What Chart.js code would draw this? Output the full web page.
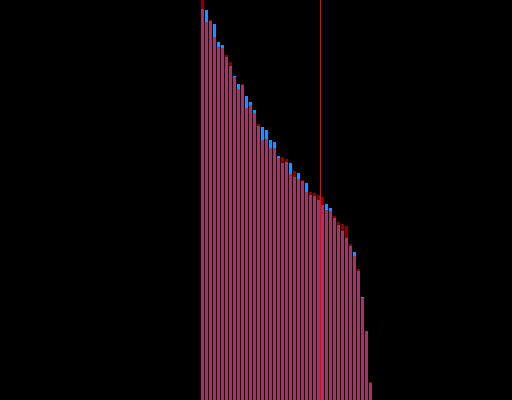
<!DOCTYPE html>
<html>
<head>
<meta charset="utf-8">
<script src="https://cdn.jsdelivr.net/npm/chart.js@4"></script>
<style>
  html, body { margin: 0; padding: 0; background: #000; }
  #wrap { width: 512px; height: 400px; position: relative; }
</style>
</head>
<body>
<div id="wrap"><canvas id="myChart"></canvas></div>
<script>
// one category per bar, left to right
const categories = ['1','2','3','4','5','6','7','8','9','10','11','12','13','14','15',
   '16','17','18','19','20','21','22','23','24','25','26','27','28','29','30',
   '31','32','33','34','35','36','37','38','39','40','41','42','43'];

// blue series
const seriesBlue = [391, 390, 379, 376, 358, 355, 343, 334, 324, 316, 315, 304, 298, 290, 274,
   273, 270, 260, 258, 244, 237, 238, 237, 223, 227, 219, 217, 205, 204, 200,
   195, 196, 192, 182, 175, 169, 162, 154, 148, 129, 103, 69, 17];

// dark red series
const seriesRed = [400, 378, 380, 363, 353, 352, 345, 338, 323, 311, 316, 292, 295, 287, 276,
   260, 261, 252, 252, 242, 243, 241, 226, 229, 221, 220, 208, 208, 207, 205,
   203, 190, 189, 184, 178, 176, 174, 156, 144, 131, 102, 69, 18];

// the vertical marker sits between bar 30 and bar 31
const markerPosition = 29.5;
const yMax = 400;

// overlap is drawn pink, the part where one series is higher gets its own colour
const overlap = seriesBlue.map((v, i) => Math.min(v, seriesRed[i]));
const blueExtra = seriesBlue.map((v, i) => Math.max(0, v - seriesRed[i]));
const redExtra = seriesRed.map((v, i) => Math.max(0, v - seriesBlue[i]));

const markerLine = {
   id: 'markerLine',
   afterDatasetsDraw(chart) {
      const x = chart.scales.x.getPixelForValue(markerPosition);
      const area = chart.chartArea;
      const ctx = chart.ctx;
      ctx.save();
      ctx.fillStyle = '#ff0000';
      ctx.fillRect(Math.floor(x), area.top, 1, area.bottom - area.top);
      ctx.restore();
   }
};

const ctx = document.getElementById('myChart').getContext('2d');
new Chart(ctx, {
   type: 'bar',
   data: {
      labels: categories,
      datasets: [
         { label: 'Both', data: overlap, backgroundColor: '#9c3868' },
         { label: 'Blue', data: blueExtra, backgroundColor: '#1e90ff' },
         { label: 'Red', data: redExtra, backgroundColor: '#8b0000' }
      ]
   },
   options: {
      responsive: true,
      maintainAspectRatio: false,
      animation: false,
      layout: { padding: { left: 200.5, right: 139.5, top: 0, bottom: 0 } },
      datasets: {
         bar: { categoryPercentage: 1, barPercentage: 0.75, borderWidth: 0 }
      },
      plugins: { legend: { display: false }, tooltip: { enabled: false } },
      scales: {
         x: { stacked: true, display: false, grid: { display: false } },
         y: { stacked: true, display: false, min: 0, max: yMax, grid: { display: false } }
      }
   },
   plugins: [markerLine]
});
</script>
</body>
</html>
